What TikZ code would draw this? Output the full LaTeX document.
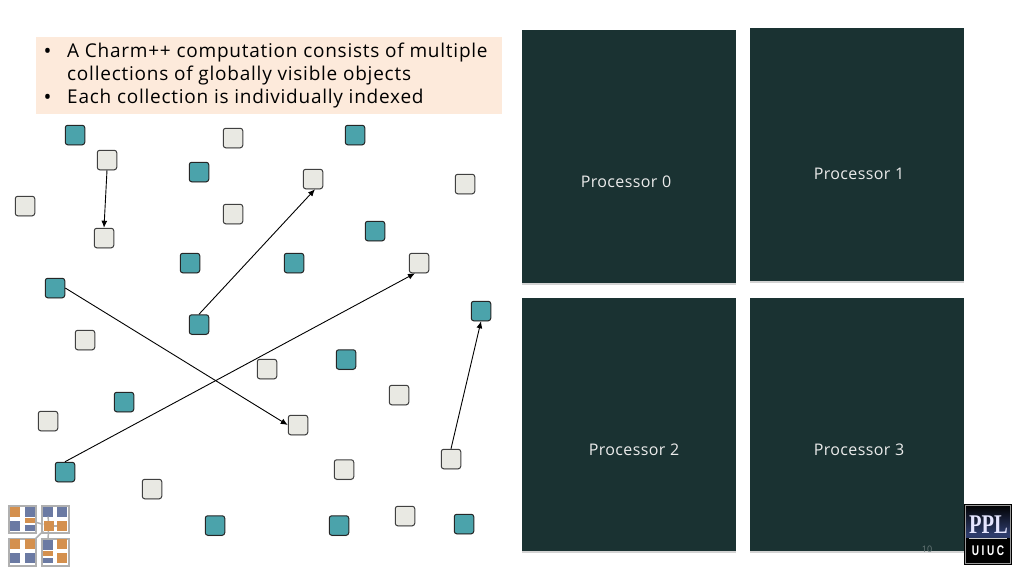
\documentclass[tikz,border=0pt]{standalone}
\usepackage{fontspec}
\setmainfont{Open Sans}
\newfontfamily\logoserif{Liberation Serif}
\newfontfamily\logosans{Liberation Sans}
\usepackage{xcolor}
\usetikzlibrary{shadows,arrows.meta,positioning,calc}
\definecolor{procfill}{HTML}{1A3232}
\definecolor{objteal}{HTML}{4BA3AB}
\definecolor{objgrey}{HTML}{E9E9E3}
\definecolor{boxpeach}{HTML}{FDEADB}
\definecolor{logoorange}{HTML}{D4904E}
\definecolor{logoblue}{HTML}{6B7AA3}
\definecolor{logogrey}{HTML}{B0B0B0}
\definecolor{pplblue}{HTML}{2F3D6E}
\tikzset{
  proc/.style={draw=none, fill=procfill, minimum width=214pt, minimum height=253pt, inner sep=0pt, drop shadow={shadow xshift=0pt, shadow yshift=-1.5pt, opacity=0.35}},
  proclabel/.style={text=white!92!black, font=\fontsize{16}{18}\selectfont\addfontfeature{LetterSpace=2.5}},
  tealobj/.style={draw=black!85, line width=1pt, fill=objteal, rounded corners=2.5pt, minimum size=19.5pt, inner sep=0pt, drop shadow={shadow xshift=0pt, shadow yshift=-1pt, opacity=0.2}},
  greyobj/.style={draw=black!75, line width=1pt, fill=objgrey, rounded corners=2.5pt, minimum size=19.5pt, inner sep=0pt, drop shadow={shadow xshift=0pt, shadow yshift=-1pt, opacity=0.2}},
  link/.style={-{Latex[length=7pt,width=6pt]}, line width=0.9pt},
  bodytext/.style={anchor=base west, inner sep=0pt, font=\fontsize{19}{23}\selectfont\addfontfeature{LetterSpace=4}},
  bodybullet/.style={anchor=base, inner sep=0pt, font=\fontsize{21}{21}\selectfont},
  logocell/.style={draw=logogrey, line width=2pt, fill=white, minimum size=27pt, inner sep=0pt},
  logoor/.style={draw=none, fill=logoorange, minimum size=10pt, inner sep=0pt},
  logobl/.style={draw=none, fill=logoblue, minimum size=10pt, inner sep=0pt},
  logoline/.style={draw=logogrey, line width=1.5pt},
}
\begin{document}
\begin{tikzpicture}[x=1pt, y=-1pt]
    \useasboundingbox (0,0) rectangle (1024,576);
    % text box
    \node[draw=none, fill=boxpeach, minimum width=466pt, minimum height=77pt, inner sep=0pt] (intro) at (269,75.5) {};
    \node[bodybullet] (bulleta) at (47.5,58) {\textbullet};
    \node[bodytext] (linea) at (67,57) {A Charm++ computation consists of multiple};
    \node[bodytext] (lineb) at (67,80) {collections of globally visible objects};
    \node[bodybullet] (bulletb) at (47.5,104) {\textbullet};
    \node[bodytext] (linec) at (67,103) {Each collection is individually indexed};
    % processors
    \node[proc] (p0) at (629,156.5) {};
    \node[proc] (p1) at (857,154.5) {};
    \node[proc] (p2) at (629,424.5) {};
    \node[proc] (p3) at (857,424.5) {};
    \node[proclabel] (p0label) at (626,181.5) {Processor 0};
    \node[proclabel] (p1label) at (859,173.5) {Processor 1};
    \node[proclabel] (p2label) at (634,449.5) {Processor 2};
    \node[proclabel] (p3label) at (859,449.5) {Processor 3};
    % teal objects
    \node[tealobj] (t1) at (75,135) {};
    \node[tealobj] (t2) at (199,172) {};
    \node[tealobj] (t3) at (355,135) {};
    \node[tealobj] (t4) at (375,231) {};
    \node[tealobj] (t5) at (190,263) {};
    \node[tealobj] (t6) at (294,263) {};
    \node[tealobj] (t7) at (55,288) {};
    \node[tealobj] (t8) at (199,324.5) {};
    \node[tealobj] (t9) at (481,311) {};
    \node[tealobj] (t10) at (346,359.5) {};
    \node[tealobj] (t11) at (124,402) {};
    \node[tealobj] (t12) at (65,472) {};
    \node[tealobj] (t13) at (215,525.5) {};
    \node[tealobj] (t14) at (339,525.5) {};
    \node[tealobj] (t15) at (464,524) {};
    % grey objects
    \node[greyobj] (g1) at (107,160) {};
    \node[greyobj] (g2) at (233,138) {};
    \node[greyobj] (g3) at (313,179) {};
    \node[greyobj] (g4) at (465,184) {};
    \node[greyobj] (g5) at (25,206) {};
    \node[greyobj] (g6) at (233,214) {};
    \node[greyobj] (g7) at (104,238) {};
    \node[greyobj] (g8) at (419,263) {};
    \node[greyobj] (g9) at (85,340) {};
    \node[greyobj] (g10) at (267,369) {};
    \node[greyobj] (g11) at (399,395) {};
    \node[greyobj] (g12) at (48,421) {};
    \node[greyobj] (g13) at (298,425) {};
    \node[greyobj] (g14) at (451,459) {};
    \node[greyobj] (g15) at (344,469.5) {};
    \node[greyobj] (g16) at (152,489) {};
    \node[greyobj] (g17) at (405,516) {};
    % messages
    \draw[link] (g1.south) -- (g7.north);
    \draw[link] (t8.north) -- ([xshift=2pt]g3.south);
    \draw[link] (t7.east) -- (g13.west);
    \draw[link] (t12.north) -- ([xshift=-4pt]g8.south);
    \draw[link] (g14.north) -- (t9.south);
    % page number
    \node[text=procfill!65!white, font=\fontsize{9}{11}\selectfont] (pageno) at (927,549) {10};
    % ppl logo
    \node[draw=black, line width=1.5pt, top color=black, bottom color=black, middle color=pplblue, shading angle=0, minimum width=47pt, minimum height=60pt, inner sep=0pt] (ppl) at (988,534.5) {};
    \fill[black] (966,538) rectangle (1010,564);
    \draw[white!60!black, line width=0.6pt] (965.5,505.5) rectangle (1010.5,563.5);
    \node[text=white!90!blue, inner sep=0pt, xscale=0.76, font=\logoserif\bfseries\fontsize{27}{28}\selectfont] (ppltext) at (988.5,524.5) {PPL};
    \node[text=white, inner sep=0pt, xscale=0.72, font=\logosans\bfseries\fontsize{14}{15}\selectfont] (uiuc) at (988,550.5) {\addfontfeature{LetterSpace=25}UIUC};
    \draw[white!80!black, line width=1.3pt] (969,538.5) -- (1007,538.5);
    % small logo
    \node[logocell] (cella) at (22.5,519) {};
    \node[logocell] (cellb) at (55,519) {};
    \node[logocell] (cellc) at (22.5,552) {};
    \node[logocell] (celld) at (55,552) {};
    \node[logoor] (a1) at (15,511.5) {};
    \node[logobl] (a2) at (30,511.5) {};
    \node[logobl] (a3) at (15,525.5) {};
    \node[logoor, minimum height=5pt] (a4) at (30,520.5) {};
    \node[logobl, minimum height=6pt] (a5) at (30,528) {};
    \node[logobl] (b1) at (48,511.5) {};
    \node[logobl] (b2) at (62,511.5) {};
    \node[logoor] (b3) at (48.5,526) {};
    \node[logoor] (b4) at (62,526) {};
    \node[logoor] (c1) at (15,544) {};
    \node[logoor] (c2) at (30,544) {};
    \node[logobl] (c3) at (15,558) {};
    \node[logobl] (c4) at (30,558) {};
    \node[logobl] (d1) at (48,544.5) {};
    \node[logoor] (d2) at (62,544) {};
    \node[logoor, minimum height=5pt] (d3) at (48,553.5) {};
    \node[logobl, minimum height=5pt] (d4) at (48,560.5) {};
    \node[logoor] (d5) at (62,558) {};
    \draw[logoline] (b3) -- (a4);
    \draw[logoline] (b3) -- (b1);
    \draw[logoline] (b3) -- (b4);
    \draw[logoline] (b3) -- (c2);
    \draw[logoline] (b3) -- (d1);
\end{tikzpicture}
\end{document}
